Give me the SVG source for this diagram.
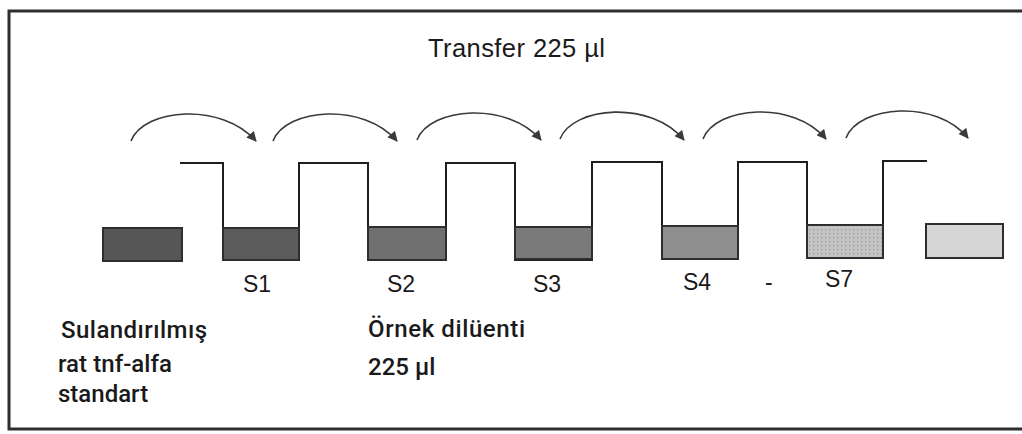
<svg xmlns="http://www.w3.org/2000/svg" width="1022" height="434" viewBox="0 0 1022 434">
  <style>
    .frame { fill: #ffffff; stroke: #2e2e2e; stroke-width: 3; }
    .wall { fill: none; stroke: #1e1e1e; stroke-width: 2; stroke-linejoin: miter; }
    .liquid { stroke: #2e2e2e; stroke-width: 2; }
    .flow { fill: none; stroke: #3a3a3a; stroke-width: 1.6; }
    .lbl { font-family: "Liberation Sans", Arial, sans-serif; fill: #1a1a1a; }
    .note { font-family: Roboto, "Noto Sans", sans-serif; font-weight: 500; fill: #1a1a1a; }
  </style>
  <defs>
    <marker id="head" viewBox="0 0 10 10" refX="9" refY="5" markerWidth="11" markerHeight="10" orient="auto" markerUnits="userSpaceOnUse">
      <path d="M0,0 L10,5 L0,10 z" fill="#3a3a3a"/>
    </marker>
    <pattern id="dots" width="4" height="4" patternUnits="userSpaceOnUse">
      <rect width="4" height="4" fill="#c4c4c4"/>
      <rect x="1" y="1" width="1.2" height="1.2" fill="#9a9a9a"/>
    </pattern>
  </defs>

  <!-- outer frame -->
  <rect class="frame" x="9" y="11" width="1018" height="418"/>

  <!-- title -->
  <text class="lbl" x="428" y="57" font-size="25.5" textLength="177">Transfer 225 µl</text>

  <!-- tube walls drawn as one continuous serpentine line -->
  <g id="tubes">
    <path class="wall" d="M180,163 H223 V260 H299 V163 H368 V260 H446 V163 H515 V260 H592 V162 H662 V259 H738 V162 H807 V258 H883 V161 H927"/>
  </g>

  <!-- liquid levels -->
  <g id="stock"><rect class="liquid" x="103" y="228" width="79" height="33" fill="#565656"/></g>
  <g id="s1"><rect class="liquid" x="223" y="228" width="76" height="32" fill="#5c5c5c"/></g>
  <g id="s2"><rect class="liquid" x="368" y="227" width="78" height="33" fill="#6f6f6f"/></g>
  <g id="s3"><rect class="liquid" x="515" y="227" width="77" height="32" fill="#7a7a7a"/></g>
  <g id="s4"><rect class="liquid" x="662" y="226" width="76" height="33" fill="#8e8e8e"/></g>
  <g id="s7"><rect class="liquid" x="807" y="225" width="76" height="33" fill="url(#dots)"/></g>
  <g id="waste"><rect class="liquid" x="926" y="224" width="77" height="34" fill="#d6d6d6"/></g>

  <!-- transfer arrows -->
  <g id="connectors">
    <path class="flow" marker-end="url(#head)" d="M131,141 C144,108 222,102 256,141"/>
    <path class="flow" marker-end="url(#head)" d="M273,141 C286,108 364,102 397,141"/>
    <path class="flow" marker-end="url(#head)" d="M417,140 C430,107 508,101 541,140"/>
    <path class="flow" marker-end="url(#head)" d="M560,139 C573,106 651,100 684,140"/>
    <path class="flow" marker-end="url(#head)" d="M703,139 C716,106 794,100 826,139"/>
    <path class="flow" marker-end="url(#head)" d="M846,138 C859,105 937,99 968,138"/>
  </g>

  <!-- sample labels -->
  <g id="labels">
    <text class="lbl" x="243" y="292" font-size="23">S1</text>
    <text class="lbl" x="387" y="292" font-size="23">S2</text>
    <text class="lbl" x="533" y="292" font-size="23">S3</text>
    <text class="lbl" x="683" y="290" font-size="23">S4</text>
    <text class="lbl" x="765" y="290" font-size="23">-</text>
    <text class="lbl" x="825" y="287" font-size="23">S7</text>
  </g>

  <!-- notes -->
  <g id="standard-note">
    <text class="note" font-size="24">
      <tspan x="61" y="338" textLength="146">Sulandırılmış</tspan>
      <tspan x="58" y="372" textLength="114">rat tnf-alfa</tspan>
      <tspan x="58" y="402">standart</tspan>
    </text>
  </g>
  <g id="diluent-note">
    <text class="note" font-size="24">
      <tspan x="368" y="337" textLength="157">Örnek dilüenti</tspan>
      <tspan x="368" y="375">225 µl</tspan>
    </text>
  </g>
</svg>
